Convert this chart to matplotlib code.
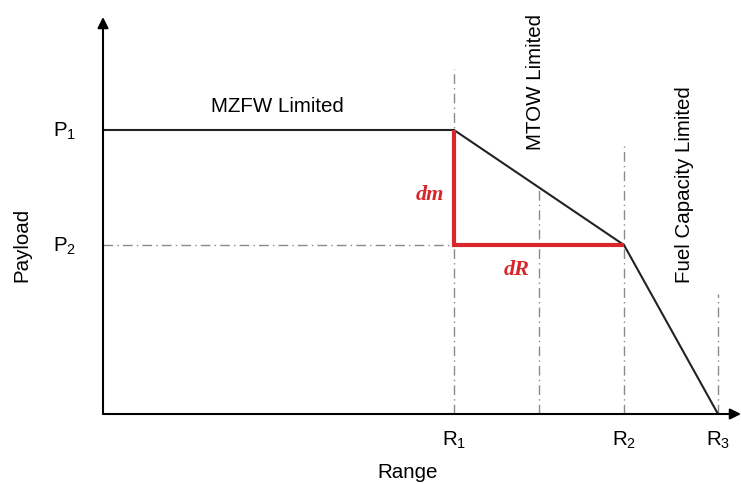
"""Payload-range diagram with the dm/dR triangle on the MTOW-limited leg."""

import matplotlib as mpl
import matplotlib.pyplot as plt

mpl.use("Agg")
plt.rcParams["font.family"] = ["Liberation Sans", "DejaVu Sans"]
plt.rcParams["mathtext.fontset"] = "custom"
plt.rcParams["mathtext.rm"] = "Liberation Sans"
plt.rcParams["mathtext.it"] = "Liberation Sans:italic"

# Range breakpoints (arbitrary units) and payload levels
R1, R_MID, R2, R3 = 3.51, 4.36, 5.21, 6.15
P1, P2 = 2.84, 1.69

range_pts = [0.0, R1, R2, R3]
payload_pts = [P1, P1, P2, 0.0]

# Guide lines: x position and top of each dash-dot line
guide_x = [R1, R_MID, R2, R3]
guide_top = [3.45, 2.25, 2.70, 1.20]

range_ticks = [R1, R2, R3]
range_labels = [r"R$_1$", r"R$_2$", r"R$_3$"]
payload_ticks = [P1, P2]
payload_labels = [r"P$_1$", r"P$_2$"]

X_MAX, Y_MAX = 6.38, 3.97
GREY = "#8a8a8a"
RED = "#d7262c"
FS = 14.8


def main():
    fig = plt.figure(figsize=(7.41, 4.85), dpi=100)
    ax = fig.add_axes([103 / 741, 70 / 485, 638 / 741, 397 / 485])
    ax.set_xlim(0, X_MAX)
    ax.set_ylim(0, Y_MAX)
    for s in ax.spines.values():
        s.set_visible(False)
    ax.set_xticks([])
    ax.set_yticks([])

    # Axes with arrow heads
    arrow = dict(arrowstyle="-|>", color="black", lw=1.5, mutation_scale=16,
                 shrinkA=0, shrinkB=0)
    ax.annotate("", xy=(X_MAX, 0), xytext=(0, 0), arrowprops=arrow,
                annotation_clip=False)
    ax.annotate("", xy=(0, Y_MAX), xytext=(0, 0), arrowprops=arrow,
                annotation_clip=False)

    # Dash-dot guides
    dash = dict(color=GREY, lw=1.0, dashes=(7, 3, 1, 3))
    for x, top in zip(guide_x, guide_top):
        ax.plot([x, x], [0, top], **dash)
    ax.plot([0, R1], [P2, P2], **dash)

    # Payload-range line
    ax.plot(range_pts, payload_pts, color="#222222", lw=1.5,
            solid_joinstyle="miter")

    # dm / dR triangle
    ax.plot([R1, R1, R2], [P1, P2, P2], color=RED, lw=3,
            solid_joinstyle="miter", solid_capstyle="butt")
    serif = dict(family="Liberation Serif", style="italic", weight="bold",
                 color=RED, fontsize=16, ha="center", va="center")
    ax.text(3.27, 2.20, "dm", **serif)
    ax.text(4.14, 1.45, "dR", **serif)

    # Region labels
    ax.text(1.74, 3.08, "MZFW Limited", fontsize=FS, ha="center", va="center")
    ax.text(4.32, 3.33, "MTOW Limited", fontsize=FS, rotation=90,
            ha="center", va="center")
    ax.text(5.81, 2.30, "Fuel Capacity Limited", fontsize=FS, rotation=90,
            ha="center", va="center")

    # Tick labels
    for y, lab in zip(payload_ticks, payload_labels):
        ax.text(-0.38, y, lab, fontsize=FS, ha="center", va="center")
    for x, lab in zip(range_ticks, range_labels):
        ax.text(x, -0.25, lab, fontsize=FS, ha="center", va="center")

    ax.text(3.05, -0.58, "Range", fontsize=FS, ha="center", va="center")
    ax.text(-0.81, 1.70, "Payload", fontsize=FS, rotation=90,
            ha="center", va="center")

    fig.savefig("out.png", dpi=100)


if __name__ == "__main__":
    main()
